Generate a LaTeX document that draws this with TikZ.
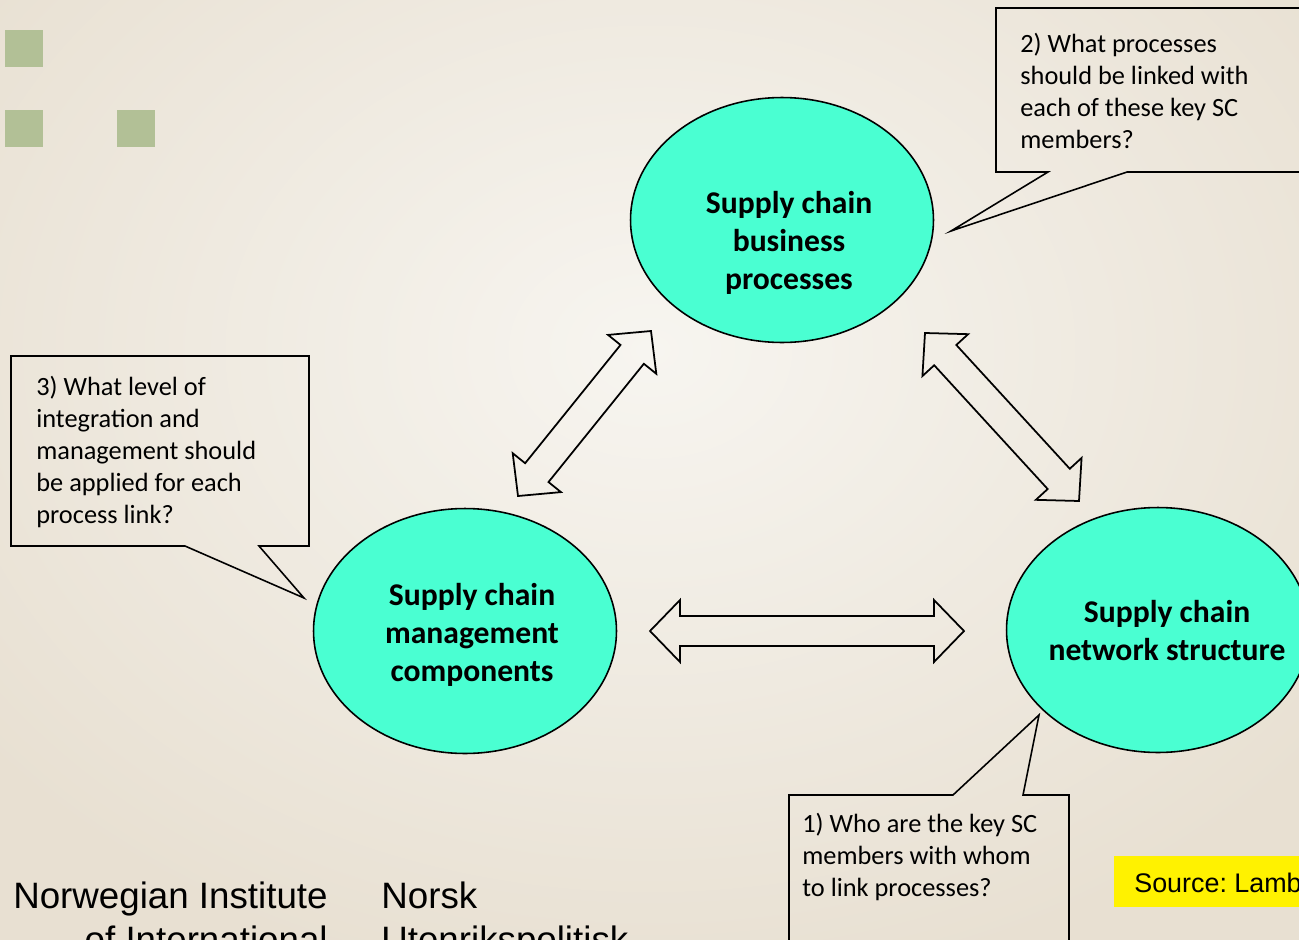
\documentclass[tikz,border=0pt]{standalone}
\usepackage{fontspec}
\setmainfont{Carlito}
\newfontfamily\arialfont{Liberation Sans}
\usepackage{tikz}
\usetikzlibrary{calc,shapes.geometric}
\frenchspacing
\definecolor{aqua}{RGB}{74,255,210}
\definecolor{bglight}{RGB}{247,245,240}
\definecolor{bgdark}{RGB}{232,224,210}
\definecolor{sage}{RGB}{178,192,150}
\def\procnode{\node[ellipse,draw=black,line width=0.9pt,fill=aqua,inner sep=0pt,minimum width=6.06cm,minimum height=4.9cm]}
% multi-line nodes: base anchor sits on the last line
\def\proctext{\node[anchor=base,align=center,inner sep=0pt,font=\fontsize{18}{21.5}\selectfont\bfseries]}
\def\asktext{\node[anchor=base west,align=left,inner sep=0pt,font=\fontsize{15}{18.1}\selectfont]}
\def\callout{\draw[line width=0.9pt,line join=miter]}
\def\blockarrow(#1)(#2){%
  \draw[line width=1pt,line join=miter] (#1)
    -- ($ (#1)!0.6cm!(#2)!0.62cm!90:(#2) $)
    -- ($ (#1)!0.6cm!(#2)!0.3cm!90:(#2) $)
    -- ($ (#2)!0.6cm!(#1)!0.3cm!-90:(#1) $)
    -- ($ (#2)!0.6cm!(#1)!0.62cm!-90:(#1) $)
    -- (#2)
    -- ($ (#2)!0.6cm!(#1)!0.62cm!90:(#1) $)
    -- ($ (#2)!0.6cm!(#1)!0.3cm!90:(#1) $)
    -- ($ (#1)!0.6cm!(#2)!0.3cm!-90:(#2) $)
    -- ($ (#1)!0.6cm!(#2)!0.62cm!-90:(#2) $)
    -- cycle;}

\begin{document}
\begin{tikzpicture}[x=0.02cm,y=-0.02cm]
\useasboundingbox (0,0) rectangle (1299,940);
\clip (0,0) rectangle (1299,940);
\shade[inner color=bglight,outer color=bgdark] (-200,-300) rectangle (1500,1000);

% slide decoration, top left
\fill[sage] (5,30) rectangle (43,67);
\fill[sage] (5,110) rectangle (43,147);
\fill[sage] (117,110) rectangle (155,147);

% ---------- the three parts of the framework
\procnode (bp) at (782,220) {};
\procnode (mc) at (465,631) {};
\procnode (ns) at (1158,630) {};
\proctext (bptxt) at (789,289) {Supply chain\\business\\processes};
\proctext (mctxt) at (472,681) {Supply chain\\management\\components};
\proctext (nstxt) at (1167,660) {Supply chain\\network structure};

% ---------- double block arrows between them
\coordinate (mc_up) at (518,496);
\coordinate (bp_left) at (651,331);
\coordinate (bp_right) at (925,333);
\coordinate (ns_up) at (1079,501);
\coordinate (mc_right) at (650,631);
\coordinate (ns_left) at (964,631);
\blockarrow(mc_up)(bp_left)
\blockarrow(bp_right)(ns_up)
\blockarrow(mc_right)(ns_left)

% ---------- the three questions
\coordinate (tip1) at (1039,715); % points at network structure
\coordinate (tip2) at (951,231);  % points at business processes
\coordinate (tip3) at (304,598);  % points at management components
\callout (789,795) -- (953,795) -- (tip1) -- (1023,795) -- (1069,795) -- (1069,960) -- (789,960) -- cycle;
\callout (996,8) -- (1320,8) -- (1320,172) -- (1127,172) -- (tip2) -- (1048,172) -- (996,172) -- cycle;
\callout (11,356) -- (309,356) -- (309,546) -- (259,546) -- (tip3) -- (185,546) -- (11,546) -- cycle;
\asktext (q1) at (802,896) {1) Who are the key SC\\members with whom\\to link processes?};
\asktext (q2) at (1020,148) {2) What processes\\should be linked with\\each of these key SC\\members?};
\asktext (q3) at (36,523) {3) What level of\\integration and\\management should\\be applied for each\\process link?};

% ---------- footer
\node[anchor=base east,align=right,inner sep=0pt,font=\arialfont\fontsize{20.9}{25}\selectfont] (nupi_en) at (328,952) {Norwegian Institute\\of International};
\node[anchor=base west,align=left,inner sep=0pt,font=\arialfont\fontsize{20.9}{25}\selectfont] (nupi_no) at (381,952) {Norsk\\Utenrikspolitisk};
\fill[yellow] (1114,856) rectangle (1320,907);
\node[anchor=base west,inner sep=0pt,font=\arialfont\fontsize{15.3}{18}\selectfont] (source) at (1134,892) {Source: Lamb};
\end{tikzpicture}
\end{document}
